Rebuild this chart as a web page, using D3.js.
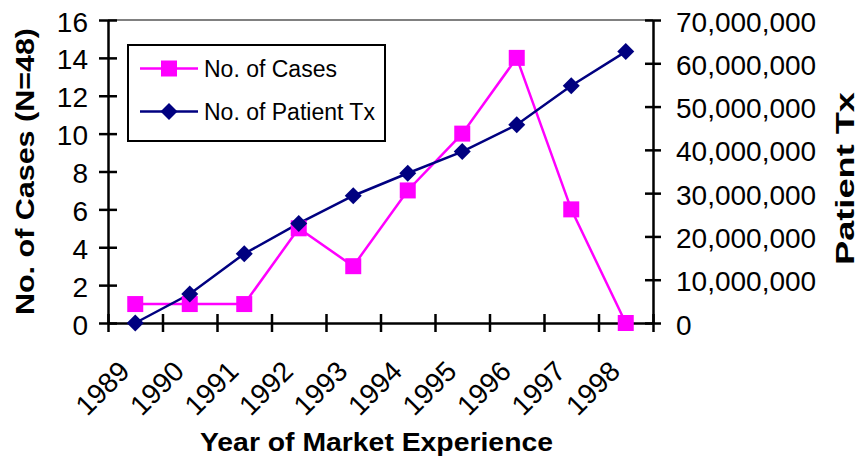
<!DOCTYPE html>
<html>
<head>
<meta charset="utf-8">
<script src="https://cdn.jsdelivr.net/npm/d3@7"></script>
<style>
  html, body { margin: 0; padding: 0; background: #fff; }
  svg { display: block; font-family: "Liberation Sans", Arial, sans-serif; }
</style>
</head>
<body>
<svg id="chart" width="861" height="472"></svg>
<script>
const years = ["1989","1990","1991","1992","1993","1994","1995","1996","1997","1998"];
const cases = [1, 1, 1, 5, 3, 7, 10, 14, 6, 0];
const patientTx = [0, 6700000, 16000000, 23000000, 29400000, 34600000, 39600000, 45800000, 54800000, 62700000];
const leftTicks = [0, 2, 4, 6, 8, 10, 12, 14, 16];
const rightTicks = [0, 10000000, 20000000, 30000000, 40000000, 50000000, 60000000, 70000000];
const seriesNames = ["No. of Cases", "No. of Patient Tx"];

const L = 108, R = 653, T = 20, B = 323;
const MAG = "#FF00FF", NAVY = "#000080";

const svg = d3.select("#chart");

const xBand = d3.scaleBand().domain(years).range([L, R]).padding(0);
const xIdx = d3.scaleLinear().domain([0, years.length]).range([L, R]);
const yL = d3.scaleLinear().domain([0, 16]).range([B, T]);
const yR = d3.scaleLinear().domain([0, 70000000]).range([B, T]);
const cx = d => xBand(d) + xBand.bandwidth() / 2;

// top plot border (gray)
svg.append("line").attr("x1", L).attr("x2", R).attr("y1", T).attr("y2", T)
  .attr("stroke", "#808080").attr("stroke-width", 2);

// left axis
const gl = svg.append("g").attr("transform", `translate(${L},0)`)
  .call(d3.axisLeft(yL).tickValues(leftTicks).tickSize(9).tickSizeOuter(0).tickPadding(11));
gl.selectAll(".tick line").attr("x1", 9);
gl.select(".domain").attr("stroke-width", 2.5);
gl.selectAll(".tick line").attr("stroke-width", 2.5);
gl.selectAll("text").attr("font-size", 28).attr("dy", null).attr("y", 11).attr("fill", "#000")
  .attr("font-family", "Liberation Sans, Arial, sans-serif");

// right axis
const gr = svg.append("g").attr("transform", `translate(${R},0)`)
  .call(d3.axisRight(yR).tickValues(rightTicks).tickFormat(d3.format(",")).tickSize(8).tickSizeOuter(0).tickPadding(15));
gr.selectAll(".tick line").attr("x1", -8).attr("stroke-width", 2.5);
gr.select(".domain").attr("stroke-width", 2.5);
gr.selectAll("text").attr("font-size", 28).attr("dy", null).attr("y", 11).attr("fill", "#000")
  .attr("font-family", "Liberation Sans, Arial, sans-serif");

// x axis (ticks between categories)
const gx = svg.append("g").attr("transform", `translate(0,${B})`)
  .call(d3.axisBottom(xIdx).tickValues(d3.range(0, years.length + 1)).tickSize(9).tickSizeOuter(0).tickFormat(""));
gx.selectAll(".tick line").attr("y1", -9).attr("stroke-width", 2.5);
gx.select(".domain").attr("stroke-width", 2.5);

// x tick labels
svg.append("g").selectAll("text").data(years).join("text")
  .attr("transform", d => `translate(${cx(d) - 4},${B + 50}) rotate(-45)`)
  .attr("text-anchor", "end").attr("font-size", 28).attr("fill", "#000")
  .text(d => d);

// axis titles
svg.append("text")
  .attr("transform", `translate(34,${(28 + 315) / 2}) rotate(-90)`)
  .attr("text-anchor", "middle").attr("font-size", 26).attr("font-weight", "bold")
  .attr("textLength", 287).attr("lengthAdjust", "spacingAndGlyphs")
  .text("No. of Cases (N=48)");

svg.append("text")
  .attr("transform", `translate(854,${(92 + 265) / 2}) rotate(-90)`)
  .attr("text-anchor", "middle").attr("font-size", 26).attr("font-weight", "bold")
  .attr("textLength", 173).attr("lengthAdjust", "spacingAndGlyphs")
  .text("Patient Tx");

svg.append("text")
  .attr("x", (200 + 553) / 2).attr("y", 451)
  .attr("text-anchor", "middle").attr("font-size", 25).attr("font-weight", "bold")
  .attr("textLength", 353).attr("lengthAdjust", "spacingAndGlyphs")
  .text("Year of Market Experience");

// lines
const lineCases = d3.line().x((d, i) => cx(years[i])).y(d => yL(d));
const lineTx = d3.line().x((d, i) => cx(years[i])).y(d => yR(d));

svg.append("path").datum(cases).attr("d", lineCases)
  .attr("fill", "none").attr("stroke", MAG).attr("stroke-width", 2.5);
svg.append("path").datum(patientTx).attr("d", lineTx)
  .attr("fill", "none").attr("stroke", NAVY).attr("stroke-width", 2.5);

const sq = d3.symbol().type(d3.symbolSquare).size(16 * 16);
const dia = d3.symbol().type(d3.symbolSquare).size(12 * 12);

svg.append("g").selectAll("path").data(cases).join("path")
  .attr("transform", (d, i) => `translate(${cx(years[i])},${yL(d)})`)
  .attr("d", sq).attr("fill", MAG);
svg.append("g").selectAll("path").data(patientTx).join("path")
  .attr("transform", (d, i) => `translate(${cx(years[i])},${yR(d)}) rotate(45)`)
  .attr("d", dia).attr("fill", NAVY);

// legend
const lg = svg.append("g");
lg.append("rect").attr("x", 128).attr("y", 45).attr("width", 257).attr("height", 96)
  .attr("fill", "#fff").attr("stroke", "#000").attr("stroke-width", 2);
const rows = [{ name: seriesNames[0], color: MAG, sym: sq, rot: 0, y: 68.5 },
              { name: seriesNames[1], color: NAVY, sym: dia, rot: 45, y: 111.5 }];
rows.forEach(r => {
  lg.append("line").attr("x1", 140).attr("x2", 198).attr("y1", r.y).attr("y2", r.y)
    .attr("stroke", r.color).attr("stroke-width", 2.5);
  lg.append("path").attr("d", r.sym).attr("fill", r.color)
    .attr("transform", `translate(169,${r.y}) rotate(${r.rot})`);
  lg.append("text").attr("x", 204).attr("y", r.y + 8.5).attr("font-size", 23).attr("fill", "#000")
    .text(r.name);
});
</script>
</body>
</html>
